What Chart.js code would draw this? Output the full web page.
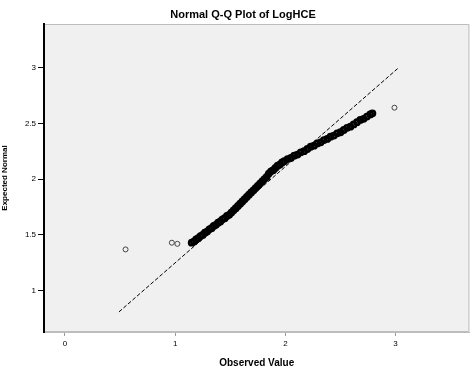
<!DOCTYPE html>
<html><head><meta charset="utf-8">
<script src="https://cdn.jsdelivr.net/npm/chart.js@4.4.1/dist/chart.umd.min.js"></script>
<style>html,body{margin:0;padding:0;background:#fff}#w{width:476px;height:369px}</style>
</head><body><div id="w"><canvas id="c"></canvas></div>
<script>
const titleText = "Normal Q-Q Plot of LogHCE";
const xAxisTitle = "Observed Value";
const yAxisTitle = "Expected Normal";
const xTickValues = [0, 1, 2, 3];
const yTickValues = [1, 1.5, 2, 2.5, 3];
const observedX = [0.55, 0.97, 1.02, 1.15, 1.17, 1.19, 1.21, 1.23, 1.25, 1.27, 1.29, 1.31, 1.33, 1.35, 1.37, 1.39, 1.41, 1.43, 1.45, 1.47, 1.49, 1.51, 1.53, 1.55, 1.57, 1.59, 1.61, 1.63, 1.65, 1.67, 1.69, 1.71, 1.73, 1.75, 1.77, 1.79, 1.81, 1.83, 1.85, 1.87, 1.89, 1.91, 1.93, 1.95, 1.97, 1.99, 2.02, 2.05, 2.08, 2.11, 2.14, 2.17, 2.20, 2.23, 2.26, 2.29, 2.32, 2.35, 2.38, 2.41, 2.44, 2.47, 2.50, 2.53, 2.56, 2.59, 2.62, 2.65, 2.68, 2.71, 2.74, 2.77, 2.79, 2.99];
const expectedY = [1.37, 1.43, 1.42, 1.43, 1.44, 1.46, 1.47, 1.49, 1.50, 1.52, 1.53, 1.55, 1.56, 1.58, 1.59, 1.61, 1.62, 1.64, 1.65, 1.67, 1.68, 1.70, 1.72, 1.74, 1.76, 1.78, 1.80, 1.82, 1.84, 1.86, 1.88, 1.90, 1.92, 1.94, 1.96, 1.98, 2.00, 2.02, 2.05, 2.07, 2.08, 2.10, 2.12, 2.13, 2.15, 2.16, 2.18, 2.19, 2.21, 2.22, 2.24, 2.25, 2.27, 2.29, 2.30, 2.32, 2.33, 2.35, 2.36, 2.38, 2.39, 2.41, 2.42, 2.44, 2.46, 2.47, 2.49, 2.51, 2.53, 2.54, 2.56, 2.58, 2.59, 2.64];
const refLineX = [0.49, 3.03];
const refLineY = [0.81, 3.0];

const FONT = "'Liberation Sans', Arial, sans-serif";
const pts = observedX.map((x, i) => ({x, y: expectedY[i]}));
const refPts = refLineX.map((x, i) => ({x, y: refLineY[i]}));
const n = pts.length;
const isOutlier = i => i < 3 || i === n - 1;

const bgPlugin = {
  id: 'bg',
  beforeDraw(chart) {
    const {ctx, chartArea: a} = chart;
    ctx.save();
    ctx.fillStyle = '#f0f0f0';
    ctx.fillRect(a.left, a.top, a.right - a.left, a.bottom - a.top);
    ctx.strokeStyle = '#bdbdbd';
    ctx.lineWidth = 1;
    ctx.beginPath();
    ctx.moveTo(a.left, a.top + 0.5); ctx.lineTo(a.right - 0.5, a.top + 0.5);
    ctx.lineTo(a.right - 0.5, a.bottom - 0.5); ctx.lineTo(a.left, a.bottom - 0.5);
    ctx.stroke();
    ctx.restore();
  },
  afterDraw(chart) {
    const {ctx} = chart;
    ctx.save();
    ctx.fillStyle = '#000';
    ctx.font = 'bold 11px ' + FONT;
    ctx.textAlign = 'center';
    ctx.textBaseline = 'middle';
    ctx.fillText(titleText, 243, 15);
    ctx.restore();
  }
};

new Chart(document.getElementById('c'), {
  type: 'scatter',
  data: {
    datasets: [
      {
        type: 'line',
        data: refPts,
        borderColor: '#000',
        borderWidth: 1,
        borderDash: [4, 2],
        pointRadius: 0,
        fill: false
      },
      {
        data: pts,
        pointStyle: 'circle',
        pointRadius: pts.map((p, i) => isOutlier(i) ? 2.5 : 2.6),
        pointBorderWidth: pts.map((p, i) => isOutlier(i) ? 1 : 2.6),
        pointBorderColor: pts.map((p, i) => isOutlier(i) ? '#444' : '#000'),
        pointBackgroundColor: 'rgba(0,0,0,0)'
      }
    ]
  },
  options: {
    responsive: true,
    maintainAspectRatio: false,
    animation: false,
    layout: {padding: {top: 24, right: 1, left: 0, bottom: 0}},
    plugins: {legend: {display: false}, tooltip: {enabled: false}, title: {display: false}},
    scales: {
      x: {
        type: 'linear',
        min: -0.19, max: 3.67,
        afterBuildTicks(s) { s.ticks = xTickValues.map(v => ({value: v})); },
        afterFit(s) { s.height = 37; },
        grid: {display: true, drawOnChartArea: false, drawTicks: true, tickLength: 4, color: '#999', tickColor: '#999'},
        border: {display: true, color: '#bdbdbd', width: 1},
        ticks: {color: '#000', font: {family: FONT, size: 8}, padding: 3, maxRotation: 0, callback: v => String(v)},
        title: {display: true, text: xAxisTitle, color: '#000', font: {family: FONT, size: 10, weight: 'bold'}, padding: {top: 2, bottom: 0}}
      },
      y: {
        type: 'linear',
        min: 0.63, max: 3.39,
        afterBuildTicks(s) { s.ticks = yTickValues.map(v => ({value: v})); },
        afterFit(s) { s.width = 44; },
        grid: {display: true, drawOnChartArea: false, drawTicks: true, tickLength: 6, color: '#000', tickColor: '#000'},
        border: {display: true, color: '#000', width: 2},
        ticks: {color: '#000', font: {family: FONT, size: 8}, padding: 2, callback: v => String(v)},
        title: {display: true, text: yAxisTitle, color: '#000', font: {family: FONT, size: 8, weight: 'bold'}, padding: {top: 0, bottom: 4}}
      }
    }
  },
  plugins: [bgPlugin]
});
</script>
</body></html>
